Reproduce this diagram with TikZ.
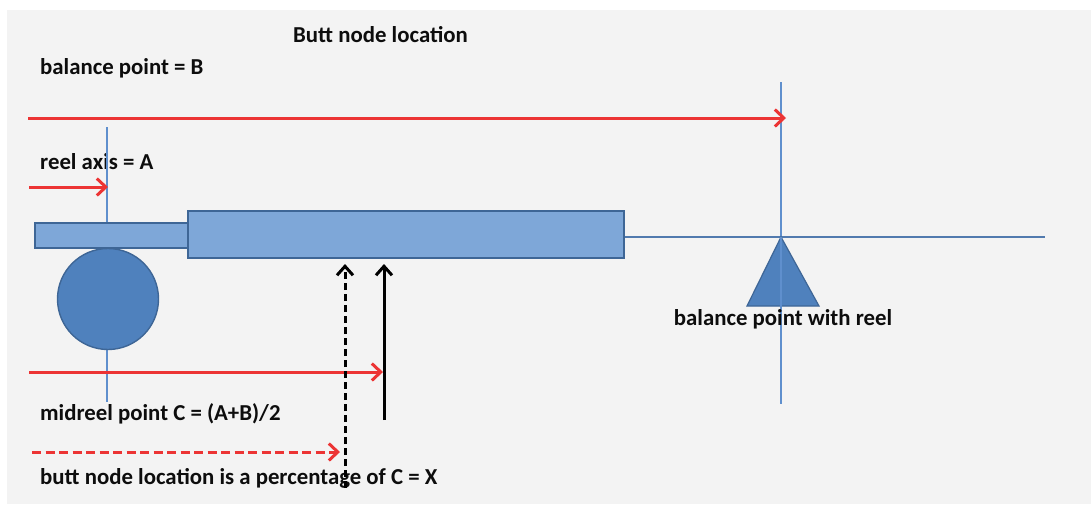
\documentclass[tikz,border=0pt]{standalone}
\usepackage{fontspec}
\setmainfont{Carlito}
\usetikzlibrary{arrows.meta}
\definecolor{bgGray}{RGB}{243,243,243}
\definecolor{rodFill}{RGB}{126,167,216}
\definecolor{rodDraw}{RGB}{62,102,150}
\definecolor{reelFill}{RGB}{79,129,189}
\definecolor{axisBlue}{RGB}{95,143,205}
\definecolor{arrRed}{RGB}{236,52,52}
\tikzset{
  lbl/.style={font=\bfseries\fontsize{22.8}{26}\selectfont, text=black!95, inner sep=0pt, anchor=base west},
  rodbox/.style={draw=rodDraw, line width=2pt, fill=rodFill},
  axisline/.style={draw=axisBlue, line width=1.7pt},
  redarrow/.style={draw=arrRed, line width=3pt, -{Straight Barb[length=9pt,width=17pt,line width=3pt]}},
  blackarrow/.style={draw=black, line width=3pt, -{Straight Barb[length=9pt,width=16pt,line width=3pt]}},
}
\begin{document}
\begin{tikzpicture}[x=1pt,y=-1pt]
\useasboundingbox (0,0) rectangle (1091,504);
\fill[white] (0,0) rectangle (1091,504);
\fill[bgGray] (7,10) rectangle (1091,504);

% texts
\node[lbl] (title) at (293,42) {Butt node location};
\node[lbl] (balB) at (40,74) {balance point = B};
\node[lbl] (reelA) at (40,169) {reel axis = A};
\node[lbl] (midC) at (40,420) {midreel point C = (A+B)/2};
\node[lbl] (buttX) at (40,484) {butt node location is a percentage of C = X};

% axes
\coordinate (axTop) at (107,127);
\coordinate (axBot) at (107,402);
\draw[axisline] (axTop) -- (axBot);
\coordinate (bpTop) at (781,82);
\coordinate (bpBot) at (781,404);
\draw[axisline] (bpTop) -- (bpBot);

% rod
\node[rodbox, minimum width=153pt, minimum height=25pt, inner sep=0pt] (rod) at (111.5,235.5) {};
\node[rodbox, minimum width=436pt, minimum height=47pt, inner sep=0pt] (blank) at (406,234.5) {};
\coordinate (lineEnd) at (1045,237);
\draw[draw=axisBlue!85!black, line width=2pt] (blank.east |- lineEnd) -- (lineEnd);

% reel
\node[circle, draw=rodDraw, line width=1.4pt, fill=reelFill, minimum size=101pt, inner sep=0pt] (reel) at (108,299) {};

% fulcrum
\coordinate (apex) at (781,237);
\coordinate (baseL) at (747,306);
\coordinate (baseR) at (819,306);
\filldraw[fill=reelFill, draw=rodDraw, line width=1.2pt] (apex) -- (baseR) -- (baseL) -- cycle;
\draw[axisline] (apex) -- (bpBot);
\node[lbl, anchor=base] (balReel) at (783,325) {balance point with reel};

% red arrows
\coordinate (bStart) at (28,118);
\coordinate (bEnd) at (786,118);
\draw[redarrow] (bStart) -- (bEnd);
\coordinate (aStart) at (29,187);
\coordinate (aEnd) at (108,187);
\draw[redarrow] (aStart) -- (aEnd);
\coordinate (cStart) at (29,372);
\coordinate (cEnd) at (383,372);
\draw[redarrow] (cStart) -- (cEnd);
\coordinate (xStart) at (32,452);
\coordinate (xEnd) at (340,452);
\draw[redarrow, dash pattern=on 9pt off 4.5pt] (xStart) -- (xEnd);

% black arrows
\coordinate (dBot) at (345,488);
\coordinate (dTop) at (345,264);
\draw[blackarrow, dash pattern=on 7pt off 4pt] (dBot) -- (dTop);
\coordinate (sBot) at (384,420);
\coordinate (sTop) at (384,264);
\draw[blackarrow] (sBot) -- (sTop);
\end{tikzpicture}
\end{document}
